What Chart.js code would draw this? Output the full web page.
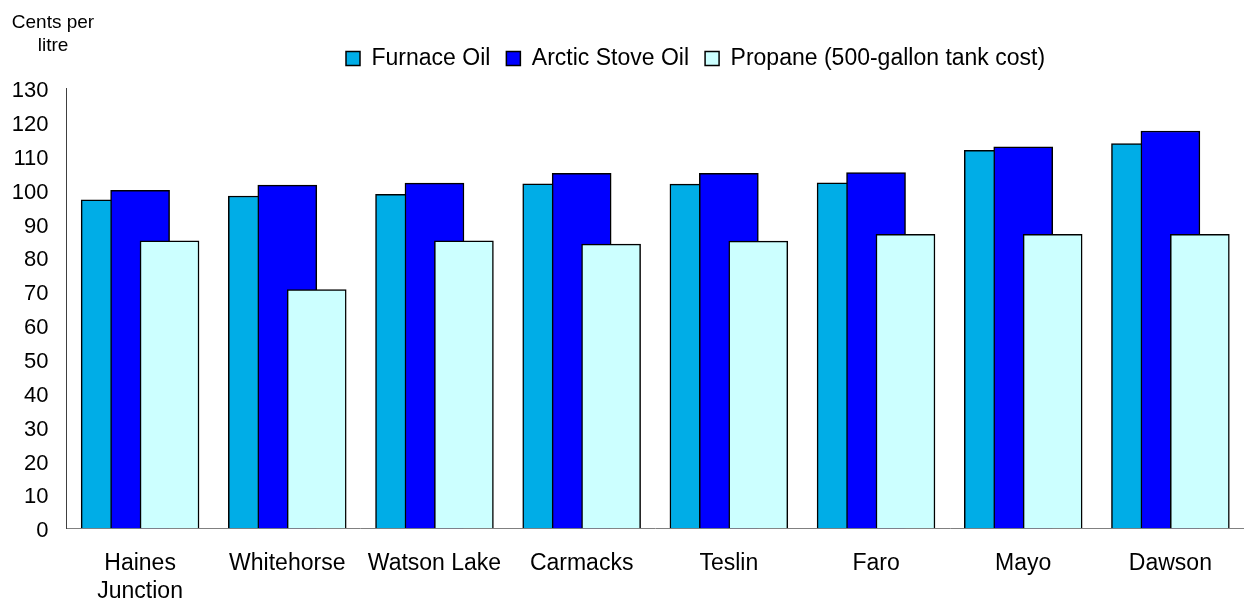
<!DOCTYPE html>
<html>
<head>
<meta charset="utf-8">
<title>Heating fuel prices</title>
<script src="https://cdn.jsdelivr.net/npm/chart.js@4"></script>
<style>
    body { margin: 0; background: #ffffff; }
    #wrap { position: relative; width: 1244px; height: 601px; }
    #unit {
        position: absolute; left: 0; top: 10px; width: 106px;
        font: 19px "Liberation Sans", Arial, sans-serif; line-height: 23px;
        text-align: center; color: #000000;
    }
</style>
</head>
<body>
<div id="wrap">
    <canvas id="fuelChart"></canvas>
    <div id="unit">Cents per<br>litre</div>
</div>
<script>
// Communities along the x axis
const categories = [['Haines', 'Junction'], 'Whitehorse', 'Watson Lake', 'Carmacks', 'Teslin', 'Faro', 'Mayo', 'Dawson'];

// Prices, cents per litre
const furnaceOil = [97.0, 98.1, 98.6, 101.7, 101.6, 102.0, 111.6, 113.6];
const arcticStoveOil = [99.8, 101.3, 101.9, 104.8, 104.8, 105.0, 112.6, 117.3];
const propane = [84.9, 70.5, 84.9, 83.9, 84.8, 86.8, 86.8, 86.8];

const seriesNames = ['Furnace Oil', 'Arctic Stove Oil', 'Propane (500-gallon tank cost)'];
const yTicks = [0, 10, 20, 30, 40, 50, 60, 70, 80, 90, 100, 110, 120, 130];

const FONT = '"Liberation Sans", Arial, sans-serif';

// bars overlap by half their width, so each series sits a fifth of a category apart
function toPoints(values, shift) {
    return values.map((v, i) => ({ x: i + shift, y: v }));
}

// moves the legend to where the original one sits (a bit right, a bit up)
const legendShift = {
    id: 'legendShift',
    afterLayout(chart) {
        const lg = chart.legend;
        const w = lg.right - lg.left;
        lg.left = 330;
        lg.right = 330 + w;
        lg.top -= 8;
        lg.bottom -= 8;
    }
};

document.addEventListener('DOMContentLoaded', function() {
    const ctx = document.getElementById('fuelChart');

    // propane first so it is painted on top, furnace oil last (underneath)
    new Chart(ctx, {
        type: 'bar',
        data: {
            datasets: [{
                label: seriesNames[2],
                data: toPoints(propane, 0.2),
                backgroundColor: '#CCFFFF'
            }, {
                label: seriesNames[1],
                data: toPoints(arcticStoveOil, 0),
                backgroundColor: '#0000FF'
            }, {
                label: seriesNames[0],
                data: toPoints(furnaceOil, -0.2),
                backgroundColor: '#00ADE7'
            }]
        },
        options: {
            responsive: true,
            maintainAspectRatio: false,
            animation: false,
            grouped: false,
            barThickness: 59,
            borderColor: '#000000',
            borderWidth: 1.5,
            layout: {
                padding: { top: 39, right: 0, bottom: 0, left: 0 }
            },
            plugins: {
                legend: {
                    position: 'top',
                    align: 'start',
                    labels: {
                        boxWidth: 14,
                        boxHeight: 14,
                        padding: 16,
                        color: '#000000',
                        font: { family: FONT, size: 23 },
                        sort: (a, b) => b.datasetIndex - a.datasetIndex
                    }
                },
                tooltip: { enabled: false }
            },
            scales: {
                x: {
                    type: 'linear',
                    offset: false,
                    min: -0.5,
                    max: 7.5,
                    grid: { display: false, drawTicks: false },
                    border: { color: '#808080', width: 1 },
                    afterBuildTicks: (axis) => {
                        axis.ticks = categories.map((c, i) => ({ value: i }));
                    },
                    afterFit: (axis) => { axis.height = 72.7; },
                    ticks: {
                        autoSkip: false,
                        maxRotation: 0,
                        padding: 22,
                        color: '#000000',
                        font: { family: FONT, size: 23 },
                        callback: (value) => categories[value]
                    }
                },
                y: {
                    min: 0,
                    max: 130,
                    grid: { display: false, drawTicks: false },
                    border: { color: '#404040', width: 1 },
                    afterBuildTicks: (axis) => {
                        axis.ticks = yTicks.map(v => ({ value: v }));
                    },
                    afterFit: (axis) => { axis.width = 66.5; },
                    ticks: {
                        padding: 18,
                        labelOffset: 3,
                        color: '#000000',
                        font: { family: FONT, size: 22 }
                    }
                }
            }
        },
        plugins: [legendShift]
    });
});
</script>
</body>
</html>
